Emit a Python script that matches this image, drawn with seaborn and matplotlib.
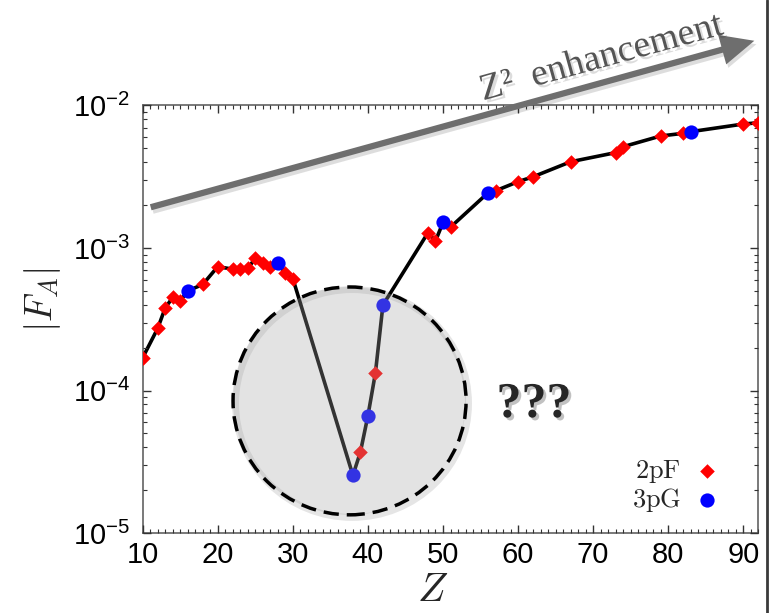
import numpy as np
import pandas as pd
import matplotlib
matplotlib.use('Agg')
import matplotlib.pyplot as plt
import matplotlib.patheffects as pe
from matplotlib import font_manager
from matplotlib.patches import Ellipse, FancyArrowPatch
from matplotlib.lines import Line2D
from matplotlib.ticker import MultipleLocator, LogLocator, NullFormatter
import seaborn as sns

# values
z_2pf = [10, 12, 13, 14, 15, 18, 20, 22, 23, 24, 25, 26, 27, 29, 30,
         39, 41, 48, 49, 51, 57, 60, 62, 67, 73, 74, 79, 82, 90, 92]
fa_2pf = [1.70e-4, 2.73e-4, 3.8e-4, 4.5e-4, 4.25e-4, 5.55e-4, 7.4e-4, 7.1e-4,
          7.1e-4, 7.2e-4, 8.45e-4, 7.8e-4, 7.4e-4, 6.65e-4, 6.1e-4,
          3.7e-5, 1.33e-4, 1.28e-3, 1.12e-3, 1.40e-3, 2.52e-3, 2.92e-3,
          3.16e-3, 4.03e-3, 4.67e-3, 5.14e-3, 6.11e-3, 6.38e-3, 7.41e-3, 7.57e-3]
z_3pg = [16, 28, 38, 40, 42, 50, 56, 83]
fa_3pg = [5.0e-4, 7.8e-4, 2.54e-5, 6.65e-5, 3.98e-4, 1.51e-3, 2.44e-3, 6.55e-3]

x_ticks = [10, 20, 30, 40, 50, 60, 70, 80, 90]

df_2pf = pd.DataFrame({'Z': z_2pf, 'FA': fa_2pf, 'state': '2pF'})
df_3pg = pd.DataFrame({'Z': z_3pg, 'FA': fa_3pg, 'state': '3pG'})
df_all = pd.concat([df_2pf, df_3pg]).sort_values('Z')

sns.set_style('ticks')
names = {f.name for f in font_manager.fontManager.ttflist}
tick_font = 'Liberation Sans Narrow' if 'Liberation Sans Narrow' in names else 'Liberation Sans'
plt.rcParams['font.family'] = [tick_font, 'DejaVu Sans']
plt.rcParams['mathtext.fontset'] = 'cm'
plt.rcParams['axes.axisbelow'] = False

fig = plt.figure(figsize=(7.73, 6.13), dpi=100)
ax = fig.add_axes([0.1846, 0.1305, 0.7964, 0.6974])

sns.lineplot(data=df_all, x='Z', y='FA', sort=True, estimator=None,
             color='black', lw=2.6, ax=ax, legend=False, zorder=2)
sns.scatterplot(data=df_2pf, x='Z', y='FA', marker='D', color='red', s=55,
                linewidth=0, ax=ax, label=r'$\mathrm{2pF}$', zorder=3)
sns.scatterplot(data=df_3pg, x='Z', y='FA', marker='o', color='blue', s=105,
                linewidth=0, ax=ax, label=r'$\mathrm{3pG}$', zorder=3)

ax.set_yscale('log')
ax.set_xlim(10, 92)
ax.set_ylim(1e-5, 1e-2)
ax.set_xticks(x_ticks)
ax.xaxis.set_minor_locator(MultipleLocator(1))
ax.yaxis.set_minor_locator(LogLocator(base=10, subs=np.arange(2, 10)))
ax.yaxis.set_minor_formatter(NullFormatter())

for side in ['left', 'right', 'top', 'bottom']:
    ax.spines[side].set_visible(True)
    ax.spines[side].set_color('#555555')
    ax.spines[side].set_linewidth(1.1)

ax.set_axisbelow(False)
ax.tick_params(which='both', direction='in', top=True, right=True, bottom=True, left=True,
               color='#333333', labelcolor='black')
ax.tick_params(which='major', length=5.5, width=1.0)
ax.tick_params(which='minor', length=3, width=0.8)
ax.tick_params(axis='x', labelsize=21, pad=6)
ax.tick_params(axis='y', labelsize=21, pad=9)

ax.set_xlabel(r'$Z$', fontsize=29)
ax.set_ylabel(r'$|F_A|$', fontsize=27)
ax.xaxis.set_label_coords(0.4716, -0.09)
ax.yaxis.set_label_coords(-0.13, 0.545)

leg = ax.legend(loc='lower right', bbox_to_anchor=(0.96, 0.013), frameon=False,
                markerfirst=False, handlelength=1.0, handletextpad=0.5,
                borderpad=0, labelspacing=0.05, fontsize=19, markerscale=1.0)

# translucent dashed circle over the dip
circ = Ellipse((0.336, 0.309), width=0.3785, height=0.533, transform=ax.transAxes,
               facecolor=(0.647, 0.647, 0.647, 0.31), edgecolor='black', lw=2.5,
               linestyle=(0, (4.4, 2.3)), zorder=10)
shadow = Ellipse((0.340, 0.303), width=0.3785, height=0.533, transform=ax.transAxes,
                 facecolor='none', edgecolor=(0, 0, 0, 0.10), lw=5, zorder=9)
ax.add_patch(shadow)
ax.add_patch(circ)

fig.text(0.6908, 0.3393, '???', fontsize=36, fontweight='bold', family='Liberation Serif',
         ha='center', va='center',
         path_effects=[pe.withSimplePatchShadow(offset=(2, -2), alpha=0.25)])

# Z^2 enhancement arrow
arrow = FancyArrowPatch((0.1915, 0.6607), (0.9793, 0.9347), transform=fig.transFigure,
                        arrowstyle='simple,head_length=2.4,head_width=2.2,tail_width=0.45',
                        mutation_scale=10, color='#6e6e6e', lw=0,
                        path_effects=[pe.SimplePatchShadow(offset=(1.5, -2.5), alpha=0.15), pe.Normal()])
fig.add_artist(arrow)
fig.text(0.778, 0.905, 'Z\u00b2  enhancement', fontsize=27,
         family='Liberation Serif', color='#555555', rotation=15.4,
         rotation_mode='anchor', ha='center', va='center',
         path_effects=[pe.withSimplePatchShadow(offset=(2, -2), alpha=0.15)])

fig.add_artist(Line2D([0.9925, 0.9925], [0, 1], transform=fig.transFigure,
                      color='#3a3a3a', lw=2))

fig.savefig('out.png', dpi=100)
